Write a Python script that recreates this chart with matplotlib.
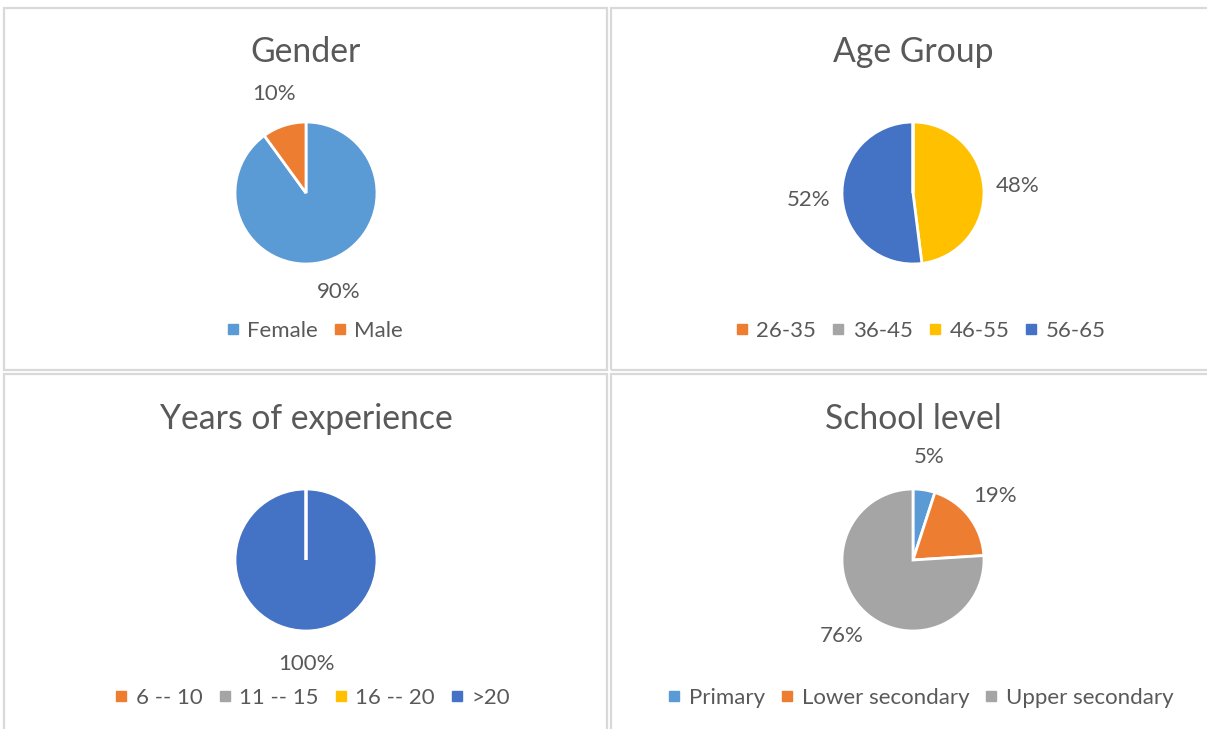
import matplotlib.pyplot as plt
from matplotlib.patches import Rectangle
from matplotlib.lines import Line2D

plt.rcParams['font.family'] = ['Lato', 'DejaVu Sans']

# --- data
gender_labels = ['Female', 'Male']
gender_values = [90, 10]
gender_colors = ['#5B9BD5', '#ED7D31']

age_labels = ['26-35', '36-45', '46-55', '56-65']
age_values = [0, 0, 48, 52]
age_colors = ['#ED7D31', '#A5A5A5', '#FFC000', '#4472C4']

exp_labels = ['6 -- 10', '11 -- 15', '16 -- 20', '>20']
exp_values = [0, 0, 0, 100]
exp_colors = ['#ED7D31', '#A5A5A5', '#FFC000', '#4472C4']

school_labels = ['Primary', 'Lower secondary', 'Upper secondary']
school_values = [5, 19, 76]
school_colors = ['#5B9BD5', '#ED7D31', '#A5A5A5']

W, H = 1207, 729
TXT = '#595959'
R_PX = 71

fig = plt.figure(figsize=(W / 100, H / 100), dpi=100)


def fx(px):
    return px / W


def fy(py):
    return 1 - py / H


# panel borders
for (x0, y0, x1, y1) in [(4, 8, 607, 370), (611, 8, 1210, 370),
                         (4, 374, 607, 735), (611, 374, 1210, 735)]:
    fig.patches.append(Rectangle((fx(x0), fy(y1)), fx(x1 - x0), (y1 - y0) / H,
                                 transform=fig.transFigure, fill=False,
                                 edgecolor='#D9D9D9', linewidth=1.6))


def pct_fmt(p):
    return '%d%%' % round(p) if p > 0.5 else ''


def panel(cx, cy, title, labels, values, colors, legend_x):
    half = 150
    ax = fig.add_axes([fx(cx - half), fy(cy + half), 2 * half / W, 2 * half / H])
    wedges, _, _ = ax.pie(values, colors=colors, startangle=90, counterclock=False,
                          autopct=pct_fmt, pctdistance=1.47, radius=1,
                          wedgeprops=dict(edgecolor='white', linewidth=2),
                          textprops=dict(color=TXT, fontsize=16))
    # empty slices still leave their white edge line on top
    for w, v in zip(wedges, values):
        if v == 0:
            w.set_zorder(5)
    lim = half / R_PX
    ax.set_xlim(-lim, lim)
    ax.set_ylim(-lim, lim)
    ax.set_aspect('equal')
    ax.axis('off')

    fig.text(fx(cx), fy(cy - 141), title, ha='center', va='center',
             fontsize=24.3, color=TXT)

    handles = [Line2D([], [], marker='s', linestyle='none', markersize=7,
                      markerfacecolor=c, markeredgecolor=c) for c in colors]
    fig.legend(handles, labels, loc='center', ncol=len(labels),
               bbox_to_anchor=(fx(legend_x), fy(cy + 138)), frameon=False,
               fontsize=16, labelcolor=TXT, handletextpad=0.3,
               columnspacing=0.65, handlelength=0.7)


panel(306, 193, 'Gender', gender_labels, gender_values, gender_colors, 314)
panel(913, 193, 'Age Group', age_labels, age_values, age_colors, 920)
panel(306, 560, 'Years of experience', exp_labels, exp_values, exp_colors, 312)
panel(913, 560, 'School level', school_labels, school_values, school_colors, 920)

fig.savefig('out.png', dpi=100)
